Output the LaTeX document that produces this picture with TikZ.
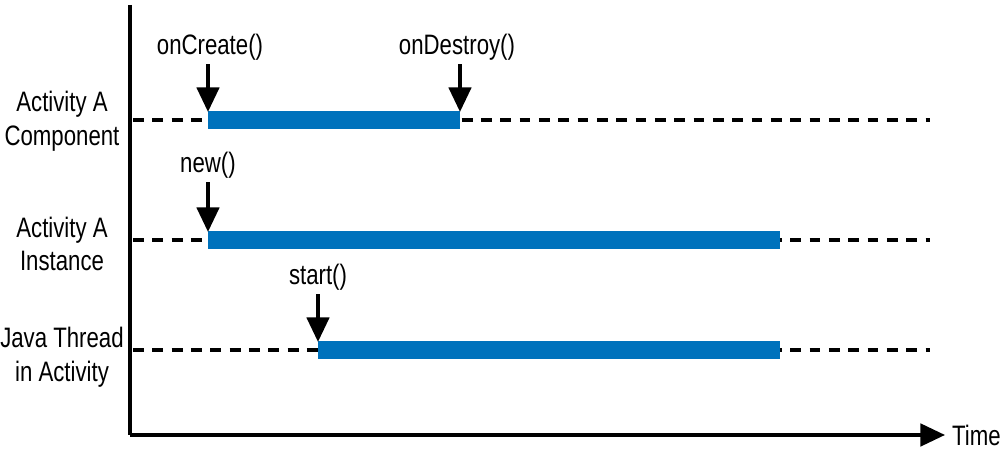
\documentclass[tikz,border=0pt]{standalone}
\usepackage{fontspec}
\setmainfont{Liberation Sans}[FakeStretch=0.79]
\usetikzlibrary{arrows.meta}
\definecolor{barblue}{RGB}{0,114,188}
\tikzset{
  axis/.style={line width=0.95pt},
  timeline/.style={line width=0.95pt, dash pattern=on 3.1pt off 2.4pt},
  lifebar/.style={line width=5.2pt, barblue},
  call/.style={line width=0.95pt, -{Triangle[width=6.4pt,length=7pt]}, shorten >=-0.3pt},
  rowlabel/.style={align=center, font=\fontsize{8}{9.6}\selectfont},
  calllabel/.style={inner sep=1pt, font=\fontsize{8}{9.6}\selectfont}
}
\begin{document}
\begin{tikzpicture}[x=0.1mm,y=-0.1mm]
  \useasboundingbox (0,0) rectangle (1000,454);
  % axes
  \coordinate (top) at (130,5);
  \coordinate (origin) at (130,435);
  \coordinate (tip) at (945,435);
  \draw[axis] (top) -- (origin);
  \draw[axis, -{Triangle[width=6.4pt,length=7pt]}] (origin) -- (tip);
  \node[calllabel, anchor=west] (time) at (948,435) {Time};
  % row labels
  \node[rowlabel] (compA) at (62,121) {Activity A\\Component};
  \node[rowlabel] (instA) at (62,244) {Activity A\\Instance};
  \node[rowlabel] (thread) at (62,357) {Java Thread\\in Activity};
  % time lines
  \coordinate (c0) at (133,120); \coordinate (c1) at (930,120);
  \coordinate (i0) at (133,240); \coordinate (i1) at (930,240);
  \coordinate (t0) at (133,350); \coordinate (t1) at (930,350);
  \draw[timeline] (c0) -- (c1);
  \draw[timeline] (i0) -- (i1);
  \draw[timeline] (t0) -- (t1);
  % life bars
  \coordinate (create) at (208,120); \coordinate (destroy) at (460,120);
  \coordinate (new) at (208,240); \coordinate (inend) at (780,240);
  \coordinate (start) at (318,350); \coordinate (thend) at (780,350);
  \draw[lifebar] (create) -- (destroy);
  \draw[lifebar] (new) -- (inend);
  \draw[lifebar] (start) -- (thend);
  % calls
  \node[calllabel] (oncreate) at (210,47) {onCreate()};
  \node[calllabel] (ondestroy) at (457,47) {onDestroy()};
  \node[calllabel] (newcall) at (208,165) {new()};
  \node[calllabel] (startcall) at (318,277) {start()};
  \draw[call] (oncreate.south -| create) -- ([yshift=2.6pt]create);
  \draw[call] (ondestroy.south -| destroy) -- ([yshift=2.6pt]destroy);
  \draw[call] (newcall.south -| new) -- ([yshift=2.6pt]new);
  \draw[call] (startcall.south -| start) -- ([yshift=2.6pt]start);
\end{tikzpicture}
\end{document}
